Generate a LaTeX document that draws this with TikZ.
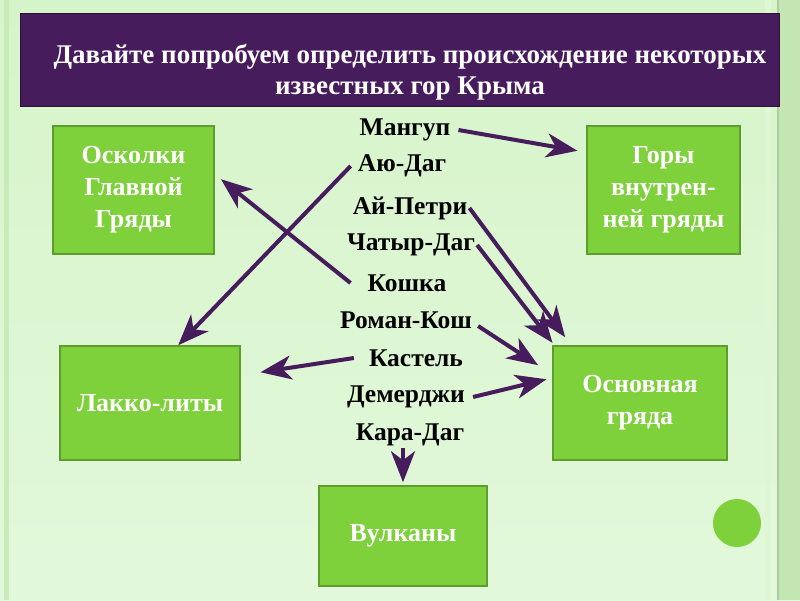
\documentclass[tikz,border=0pt]{standalone}
\usepackage{fontspec}
\setmainfont{Liberation Serif}
\usetikzlibrary{arrows.meta,positioning}

\definecolor{slidepurple}{RGB}{70,28,92}
\definecolor{bannerline}{RGB}{45,14,60}
\definecolor{boxgreen}{RGB}{127,209,59}
\definecolor{boxedge}{RGB}{94,156,46}
\definecolor{bgtop}{RGB}{214,244,201}
\definecolor{bgbot}{RGB}{226,248,219}
\definecolor{stripedark}{RGB}{196,230,178}
\definecolor{stripelight}{RGB}{222,246,212}

\begin{document}
\begin{tikzpicture}[x=1pt,y=-1pt,
  rockbox/.style={draw=boxedge, line width=1.5pt, fill=boxgreen, text=white,
    font=\fontsize{26}{32}\selectfont\bfseries, align=center, inner sep=0pt},
  mount/.style={font=\fontsize{25.5}{28}\selectfont\bfseries, inner sep=2pt},
  link/.style={-{Stealth[length=31pt,width=24pt,inset=9pt]}, line width=4pt, slidepurple}
]
  % slide background
  \useasboundingbox (0,0) rectangle (800,600);
  \fill[top color=bgtop, bottom color=bgbot] (0,0) rectangle (800,600);
  \fill[stripedark!70!bgtop] (4,0) rectangle (9,600);
  \fill[stripelight] (765,0) rectangle (771,600);
  \fill[stripedark] (777,0) rectangle (800,600);
  \draw[stripedark!85!black!90, line width=1.5pt] (778,0) -- (778,600);

  % title
  \fill[slidepurple, draw=bannerline, line width=0.8pt] (20,13) rectangle (779,106);
  \node[text=white, font=\fontsize{27}{31}\selectfont\bfseries, align=center]
    (title) at (410,72) {Давайте попробуем определить происхождение некоторых\\известных гор Крыма};

  % groups
  \node[rockbox, minimum width=161pt, minimum height=128pt] (osk) at (133.5,190)
    {Осколки\\Главной\\Гряды};
  \node[rockbox, minimum width=153pt, minimum height=128pt] (gory) at (663.5,190)
    {Горы\\внутрен-\\ней гряды};
  \node[rockbox, minimum width=180pt, minimum height=114pt] (lakko) at (150,403)
    {Лакко-литы};
  \node[rockbox, minimum width=174pt, minimum height=114pt] (osnov) at (640,403)
    {Основная\\гряда};
  \node[rockbox, minimum width=168pt, minimum height=100pt] (vulk) at (403,536)
    {Вулканы};
  \fill[boxgreen] (737,523) circle[radius=24pt];

  % mountains
  \node[mount] (mangup) at (405,130) {Мангуп};
  \node[mount] (ajudag) at (402,166) {Аю-Даг};
  \node[mount] (ajpetri) at (410,208) {Ай-Петри};
  \node[mount] (chatyr) at (411,245) {Чатыр-Даг};
  \node[mount] (koshka) at (407,283) {Кошка};
  \node[mount] (romankosh) at (406,320) {Роман-Кош};
  \node[mount] (kastel) at (416,358) {Кастель};
  \node[mount] (demerdzhi) at (406,397) {Демерджи};
  \node[mount] (karadag) at (410,435) {Кара-Даг};

  % arrows
  \draw[link, shorten >=9pt] ([xshift=6pt]mangup.east) -- (gory.154);
  \draw[link] ([xshift=-5pt]ajudag.west) -- (lakko.64);
  \draw[link, shorten >=8pt] ([xshift=-15pt]koshka.west) -- (osk.11);
  \draw[link, shorten >=10pt] (ajpetri.east) -- (osnov.140);
  \draw[link, shorten >=3pt] (chatyr.east) -- (osnov.146);
  \draw[link, shorten >=17pt] ([xshift=4pt,yshift=-6pt]romankosh.east) -- (osnov.162);
  \draw[link, shorten >=20pt] ([xshift=-13pt]kastel.west) -- (lakko.17);
  \draw[link, shorten >=6pt] ([xshift=6pt]demerdzhi.east) -- (osnov.164);
  \draw[link, shorten >=3pt] (karadag.south -| vulk.north) -- (vulk.north);
\end{tikzpicture}
\end{document}
